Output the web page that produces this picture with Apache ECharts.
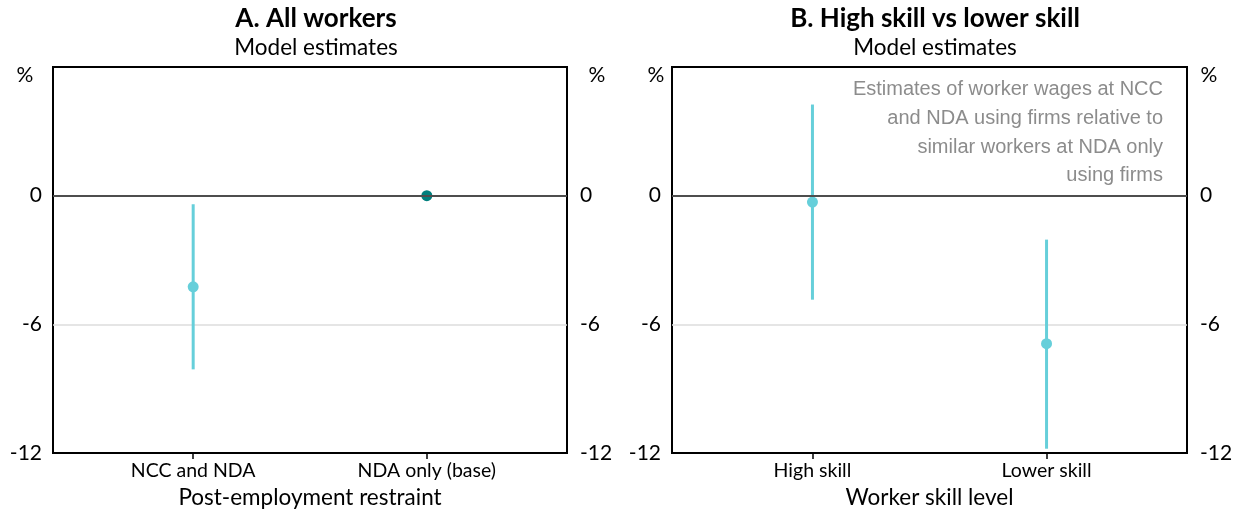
<!DOCTYPE html>
<html><head><meta charset="utf-8">
<script src="https://cdn.jsdelivr.net/npm/echarts@6/dist/echarts.min.js"></script>
<style>html,body{margin:0;padding:0;background:#fff}#c{width:1239px;height:512px}</style>
</head><body><div id="c"></div>
<script>
const panelTitles = ['A. All workers', 'B. High skill vs lower skill'];
const panelSubtitles = ['Model estimates', 'Model estimates'];
const xAxisNames = ['Post-employment restraint', 'Worker skill level'];
const categoriesA = ['NCC and NDA', 'NDA only (base)'];
const categoriesB = ['High skill', 'Lower skill'];
const estimateA = [-4.25, 0];
const lowerA = [-8.1, null];
const upperA = [-0.4, null];
const estimateB = [-0.3, -6.9];
const lowerB = [-4.85, -11.8];
const upperB = [4.25, -2.05];
const yMin = -12, yMax = 6, yStep = 6;
const annotationLines = [
  'Estimates of worker wages at NCC',
  'and NDA using firms relative to',
  'similar workers at NDA only',
  'using firms'
];

const FONT = 'Lato';
const CI_COLOR = '#66cfda';
const BASE_COLOR = '#007f7d';

const chart = echarts.init(document.getElementById('c'), null, {renderer: 'canvas'});

const grids = [
  {left: 53, right: 672, top: 67, bottom: 59},
  {left: 672, right: 52, top: 67, bottom: 59}
];

function xAxisFor(i, cats) {
  return {
    type: 'value', gridIndex: i, min: 0.4, max: 2.6,
    name: xAxisNames[i], nameLocation: 'middle', nameGap: 32,
    nameTextStyle: {fontFamily: FONT, fontSize: 22.5, color: '#000'},
    axisLine: {show: true, onZero: false, lineStyle: {color: '#000', width: 2}},
    axisTick: {show: true, customValues: [1, 2], length: 6, lineStyle: {color: '#000', width: 1.5}},
    axisLabel: {show: true, customValues: [1, 2], formatter: v => cats[Math.round(v) - 1] || '',
      fontFamily: FONT, fontSize: 19.5, color: '#000', margin: 8},
    splitLine: {show: false}
  };
}
function yAxisFor(i, pos) {
  return {
    type: 'value', gridIndex: i, position: pos, min: yMin, max: yMax, interval: yStep,
    axisLine: {show: false}, axisTick: {show: false},
    axisLabel: {formatter: v => v === yMax ? '' : String(v), fontFamily: FONT, fontSize: 21, color: '#000',
      margin: pos === 'left' ? 11 : 13},
    splitLine: {show: pos === 'left', showMinLine: false, showMaxLine: false, lineStyle: {color: '#dddddd', width: 1.5}}
  };
}

function ciData(lo, hi) {
  const out = [];
  lo.forEach((l, k) => { if (l !== null && hi[k] !== null) out.push([k + 1, l, hi[k]]); });
  return out;
}
function renderCI(params, api) {
  const x = api.value(0);
  const p1 = api.coord([x, api.value(2)]);
  const p2 = api.coord([x, api.value(1)]);
  return {type: 'line', shape: {x1: p1[0], y1: p1[1], x2: p2[0], y2: p2[1]},
    style: {stroke: CI_COLOR, lineWidth: 3}};
}
function zeroLine(i) {
  return {type: 'line', xAxisIndex: i, yAxisIndex: i * 2, data: [], z: 1, silent: true,
    markLine: {silent: true, symbol: 'none', label: {show: false},
      lineStyle: {color: '#4d4d4d', width: 2, type: 'solid'}, data: [{yAxis: 0}]}};
}

const titleCenters = [311, 930];
const pctLabels = [
  {x: 25, y: 75}, {x: 597, y: 75}, {x: 656, y: 75}, {x: 1209, y: 75}
];

const option = {
  backgroundColor: '#fff',
  animation: false,
  title: panelTitles.map((t, i) => ({
    text: t, subtext: panelSubtitles[i], left: titleCenters[i], textAlign: 'center', top: 1, itemGap: 4,
    textStyle: {fontFamily: FONT, fontSize: 26, fontWeight: 'bold', color: '#000'},
    subtextStyle: {fontFamily: FONT, fontSize: 22.5, color: '#000'}
  })),
  grid: grids.map(g => Object.assign({show: true, borderColor: '#000', borderWidth: 2, backgroundColor: 'transparent',
    outerBoundsMode: 'none', containLabel: false}, g)),
  xAxis: [xAxisFor(0, categoriesA), xAxisFor(1, categoriesB)],
  yAxis: [yAxisFor(0, 'left'), yAxisFor(0, 'right'), yAxisFor(1, 'left'), yAxisFor(1, 'right')],
  graphic: pctLabels.map(p => ({type: 'text', x: p.x, y: p.y, style: {text: '%', fontFamily: FONT, fontSize: 21, fill: '#000', align: 'center', verticalAlign: 'middle'}}))
    .concat([{type: 'text', x: 1163, y: 75, style: {text: annotationLines.join('\n'), fontFamily: 'Liberation Sans', fontSize: 20, lineHeight: 28.8, fill: '#8c8c8c', align: 'right', verticalAlign: 'top'}}]),
  series: [
    zeroLine(0), zeroLine(1),
    {type: 'custom', xAxisIndex: 0, yAxisIndex: 0, z: 2, renderItem: renderCI, data: ciData(lowerA, upperA)},
    {type: 'custom', xAxisIndex: 1, yAxisIndex: 2, z: 2, renderItem: renderCI, data: ciData(lowerB, upperB)},
    {type: 'scatter', xAxisIndex: 0, yAxisIndex: 0, z: 3, symbolSize: 11,
      data: estimateA.map((v, k) => ({value: [k + 1, v], itemStyle: {color: lowerA[k] === null ? BASE_COLOR : CI_COLOR, opacity: 1}}))},
    {type: 'scatter', xAxisIndex: 1, yAxisIndex: 2, z: 3, symbolSize: 11, itemStyle: {color: CI_COLOR, opacity: 1},
      data: estimateB.map((v, k) => [k + 1, v])}
  ]
};
chart.setOption(option);
</script></body></html>
